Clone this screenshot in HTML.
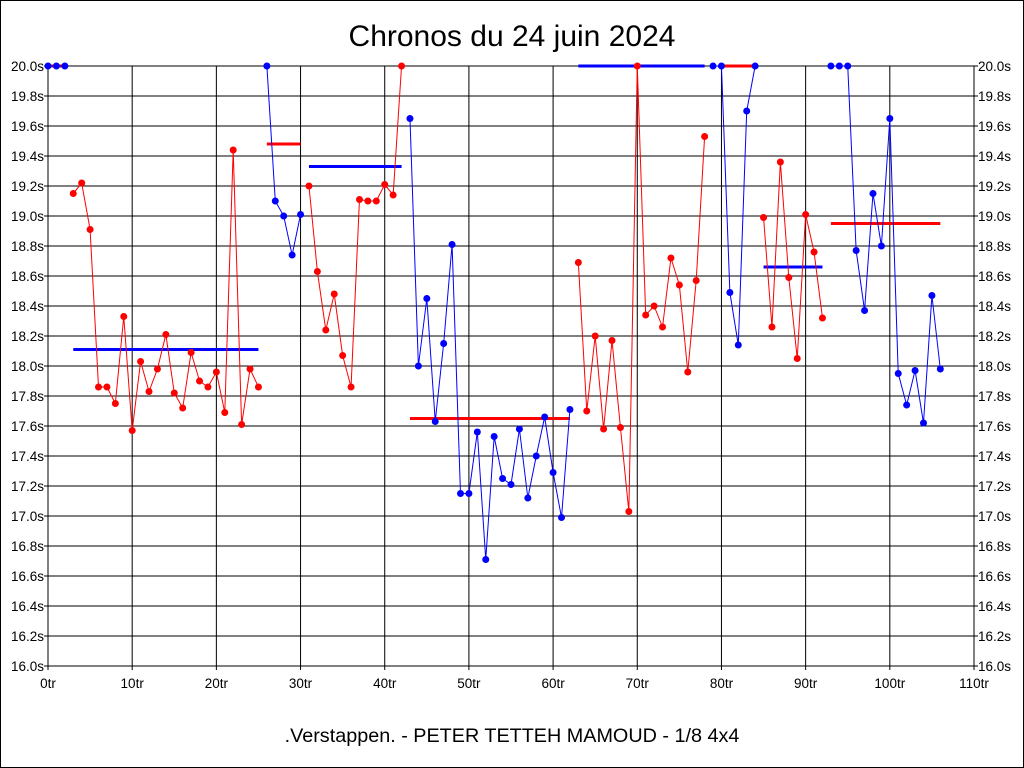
<!DOCTYPE html>
<html><head><meta charset="utf-8"><style>
body{margin:0;background:#fff}
svg{display:block;font-family:"Liberation Sans",sans-serif}
</style></head><body>
<svg id="c" width="1024" height="768">
<rect x="0.5" y="0.5" width="1023" height="767" fill="#fff" stroke="#000"/>
<text x="512" y="46" font-size="30" text-anchor="middle">Chronos du 24 juin 2024</text>
<text x="512" y="742" font-size="19.8" text-anchor="middle">.Verstappen. - PETER TETTEH MAMOUD - 1/8 4x4</text>
<g id="grid"></g><g id="marks"></g>
</svg>
<script>
const xTicks=[0,10,20,30,40,50,60,70,80,90,100,110];
const yTicks=[16.0,16.2,16.4,16.6,16.8,17.0,17.2,17.4,17.6,17.8,18.0,18.2,18.4,18.6,18.8,19.0,19.2,19.4,19.6,19.8,20.0];
const segStart=[0,3,26,31,43,63,79,85,93];
const segColor=['blue','red','blue','red','blue','red','blue','red','blue'];
const segValues=[
[20,20,20],
[19.15,19.22,18.91,17.86,17.86,17.75,18.33,17.57,18.03,17.83,17.98,18.21,17.82,17.72,18.09,17.90,17.86,17.96,17.69,19.44,17.61,17.98,17.86],
[20,19.10,19.00,18.74,19.01],
[19.20,18.63,18.24,18.48,18.07,17.86,19.11,19.10,19.10,19.21,19.14,20.0],
[19.65,18.0,18.45,17.63,18.15,18.81,17.15,17.15,17.56,16.71,17.53,17.25,17.21,17.58,17.12,17.40,17.66,17.29,16.99,17.71],
[18.69,17.70,18.20,17.58,18.17,17.59,17.03,20.0,18.34,18.40,18.26,18.72,18.54,17.96,18.57,19.53],
[20,20,18.49,18.14,19.70,20.0],
[18.99,18.26,19.36,18.59,18.05,19.01,18.76,18.32],
[20,20,20,18.77,18.37,19.15,18.80,19.65,17.95,17.74,17.97,17.62,18.47,17.98]];
const avgStart=[0,3,26,31,43,63,80,85,93];
const avgEnd=[2,25,30,42,62,78,84,92,106];
const avgValues=[20,18.11,19.48,19.33,17.65,20.0,20.0,18.66,18.95];
const avgColor=['red','blue','red','blue','red','blue','red','blue','red'];
const X0=48,X1=974,Y0=666,Y1=66;
const xs=v=>X0+(v-0)/(110)*(X1-X0);
const ys=v=>Y0-(v-16)/4*(Y0-Y1);
const NS='http://www.w3.org/2000/svg';
function mk(t,a,p){const e=document.createElementNS(NS,t);for(const k in a)e.setAttribute(k,a[k]);p.appendChild(e);return e;}
const g=document.getElementById('grid'),m=document.getElementById('marks');
mk('rect',{x:X0,y:Y1,width:X1-X0,height:Y0-Y1,fill:'none',stroke:'#000'},g);
xTicks.forEach(t=>{const x=xs(t);
const l=mk('line',{x1:x,x2:x,y1:Y1,y2:Y0+4,stroke:'#000'},g);


const tx=mk('text',{x:x,y:Y0+22,'font-size':13.5,'text-anchor':'middle'},g);tx.textContent=t+'tr';

});
yTicks.forEach(t=>{const y=ys(t);
const l=mk('line',{x1:X0-4,x2:X1+4,y1:y,y2:y,stroke:'#000'},g);


const a=mk('text',{x:X0-4,y:y+5,'font-size':13.5,'text-anchor':'end'},g);a.textContent=t.toFixed(1)+'s';


const b=mk('text',{x:X1+4,y:y+5,'font-size':13.5},g);b.textContent=t.toFixed(1)+'s';

});
avgValues.forEach((v,i)=>{const l=mk('line',{x1:xs(avgStart[i]),x2:xs(avgEnd[i]),y1:ys(v),y2:ys(v),stroke:avgColor[i],'stroke-width':3},m);

});
segValues.forEach((vals,i)=>{const pts=vals.map((v,j)=>xs(segStart[i]+j)+','+ys(v)).join(' ');
const pl=mk('polyline',{points:pts,fill:'none',stroke:segColor[i],'stroke-width':1},m);


vals.forEach((v,j)=>{const c=mk('circle',{cx:xs(segStart[i]+j),cy:ys(v),r:3.5,fill:segColor[i]},m);

});});
</script>
</body></html>
